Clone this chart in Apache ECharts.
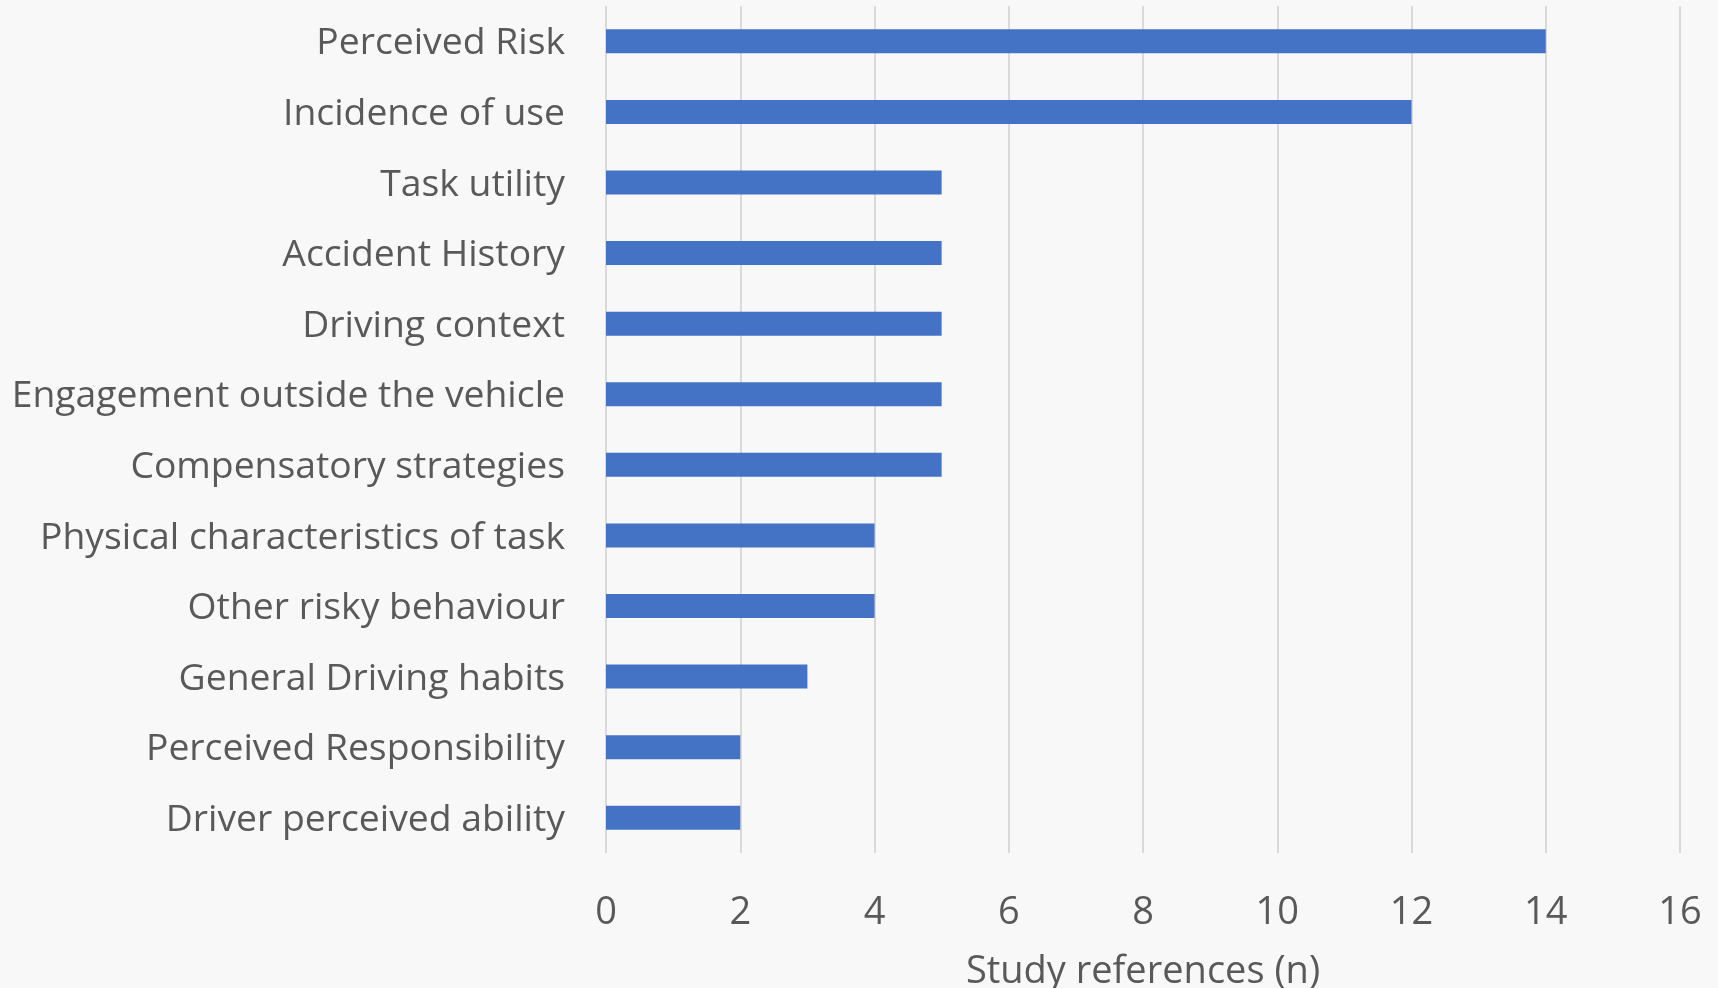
<!DOCTYPE html>
<html>
<head>
<meta charset="utf-8">
<title>Study references by factor</title>
<script src="https://cdn.jsdelivr.net/npm/echarts@6/dist/echarts.min.js"></script>
<style>
  html, body { margin: 0; padding: 0; background: #f8f8f8; }
  #chart { width: 1718px; height: 988px; }
</style>
</head>
<body>
<div id="chart"></div>
<script>
// Factors, listed top to bottom
const factors = [
  'Perceived Risk',
  'Incidence of use',
  'Task utility',
  'Accident History',
  'Driving context',
  'Engagement outside the vehicle',
  'Compensatory strategies',
  'Physical characteristics of task',
  'Other risky behaviour',
  'General Driving habits',
  'Perceived Responsibility',
  'Driver perceived ability'
];
// Number of study references per factor
const studyCounts = [14, 12, 5, 5, 5, 5, 5, 4, 4, 3, 2, 2];
const axisTicks = { min: 0, max: 16, step: 2 };
const axisTitle = 'Study references (n)';

const textColor = '#595959';
const fontFamily = '"Open Sans", "Noto Sans", sans-serif';

const chart = echarts.init(document.getElementById('chart'));
chart.setOption({
  backgroundColor: '#f8f8f8',
  animation: false,
  grid: {
    left: 606, right: 38, top: 6, bottom: 135,
    containLabel: false,
    outerBoundsMode: 'none'
  },
  xAxis: {
    type: 'value',
    min: axisTicks.min,
    max: axisTicks.max,
    interval: axisTicks.step,
    name: axisTitle,
    nameLocation: 'middle',
    nameGap: 100,
    nameTextStyle: { color: textColor, fontSize: 38, fontFamily: fontFamily, lineHeight: 38 },
    axisLine: { show: false },
    axisTick: { show: false },
    axisLabel: { color: textColor, fontSize: 38, fontFamily: fontFamily, margin: 41, lineHeight: 38 },
    splitLine: { show: true, lineStyle: { color: '#d9d9d9', width: 2 } }
  },
  yAxis: {
    type: 'category',
    data: factors,
    inverse: true,
    axisLine: { show: false },
    axisTick: { show: false },
    axisLabel: {
      margin: 41,
      formatter: (v) => '{f|' + v + '}',
      rich: {
        f: {
          color: textColor, fontSize: 37.3, fontFamily: fontFamily,
          lineHeight: 40, padding: [5, 0, 0, 0]
        }
      }
    }
  },
  series: [{
    type: 'bar',
    data: studyCounts,
    barWidth: 24,
    itemStyle: { color: '#4472c4' }
  }]
});
</script>
</body>
</html>
